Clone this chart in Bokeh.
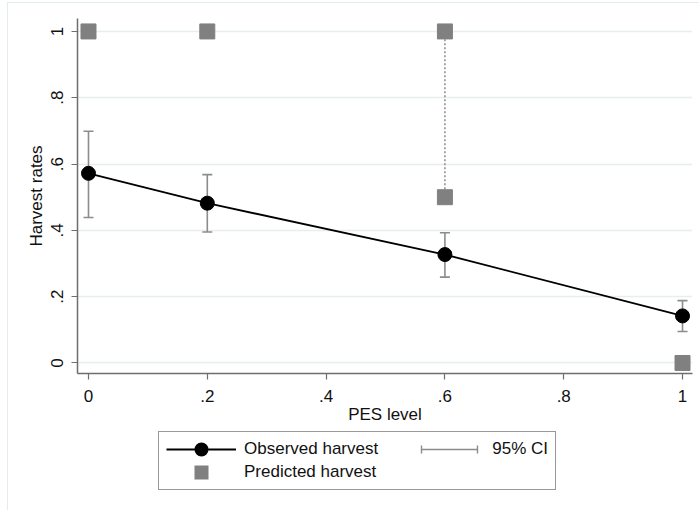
from bokeh.plotting import figure
from bokeh.layouts import column
from bokeh.models import (Range1d, FixedTicker, Legend, LegendItem, ColumnDataSource,
                          Whisker, TeeHead)
from bokeh.embed import file_html
from bokeh.resources import INLINE

# ---- data ----
pes_level = [0.0, 0.2, 0.6, 1.0]
observed = [0.572, 0.482, 0.327, 0.142]
ci_low = [0.439, 0.395, 0.259, 0.095]
ci_high = [0.699, 0.568, 0.393, 0.188]

pred_x = [0.0, 0.2, 0.6, 0.6, 1.0]
pred_y = [1.0, 1.0, 1.0, 0.5, 0.0]

ticks = [0.0, 0.2, 0.4, 0.6, 0.8, 1.0]
tick_labels = ["0", ".2", ".4", ".6", ".8", "1"]

# range of predictions at PES levels with more than one prediction
range_x, range_lo, range_hi = [], [], []
for xv in sorted(set(pred_x)):
    ys = [yv for xx, yv in zip(pred_x, pred_y) if xx == xv]
    if len(ys) > 1:
        range_x.append(xv)
        range_lo.append(min(ys))
        range_hi.append(max(ys))

FONT = "Liberation Sans"
FS = "17px"
GREY = "#8c8c8c"
SQ = "#808080"
FRAME = "#e3ecee"

# ---------------- main plot ----------------
p = figure(width=699, height=430, output_backend="svg", toolbar_location=None,
           x_range=Range1d(-0.0185, 1.0168), y_range=Range1d(-0.0317, 1.039),
           min_border_left=77, min_border_right=7, min_border_top=18,
           min_border_bottom=57)
p.outline_line_color = None
p.background_fill_color = "white"
p.border_fill_color = None
p.styles = {"background": (f"linear-gradient({FRAME},{FRAME}) 7px 2px / 1px 700px no-repeat, "
                           f"linear-gradient({FRAME},{FRAME}) 7px 2px / 800px 1px no-repeat, "
                           "white")}

for ax in (p.xaxis[0], p.yaxis[0]):
    ax.ticker = FixedTicker(ticks=ticks)
    ax.major_label_overrides = {t: l for t, l in zip(ticks, tick_labels)}
    ax.axis_line_color = "#6e6e6e"
    ax.axis_line_width = 1.5
    ax.major_tick_line_color = "#6e6e6e"
    ax.major_tick_line_width = 1.2
    ax.major_tick_in = 0
    ax.major_tick_out = 6
    ax.minor_tick_line_color = None
    ax.major_label_text_font = FONT
    ax.major_label_text_font_size = FS
    ax.major_label_text_color = "#111111"
    ax.axis_label_text_font = FONT
    ax.axis_label_text_font_size = FS
    ax.axis_label_text_font_style = "normal"
    ax.axis_label_text_color = "#111111"

p.xaxis.axis_label = "PES level"
p.yaxis.axis_label = "Harvest rates"
p.yaxis.major_label_orientation = "vertical"
p.xaxis.major_label_standoff = 10
p.xaxis.axis_label_standoff = 0
p.yaxis.major_label_standoff = 8
p.yaxis.axis_label_standoff = 3

p.xgrid.grid_line_color = None
p.ygrid.ticker = FixedTicker(ticks=ticks)
p.ygrid.grid_line_color = "#e6eef0"
p.ygrid.grid_line_width = 1.5

src = ColumnDataSource(dict(x=pes_level, y=observed, lo=ci_low, hi=ci_high))
psrc = ColumnDataSource(dict(x=pred_x, y=pred_y))

# dotted range of predictions
p.segment(x0=range_x, y0=range_lo, x1=range_x, y1=range_hi,
          line_color="#8a8a8a", line_width=1.5, line_dash="2 2")

# CI bars with caps
p.segment(x0="x", y0="lo", x1="x", y1="hi", source=src,
          line_color=GREY, line_width=1.6)
wh = Whisker(base="x", lower="lo", upper="hi", source=src, dimension="height",
             line_alpha=0)
wh.upper_head = TeeHead(size=10, line_color=GREY, line_width=1.6)
wh.lower_head = TeeHead(size=10, line_color=GREY, line_width=1.6)
p.add_layout(wh)

# observed line + markers
p.line(x="x", y="y", source=src, line_color="black", line_width=1.8)
p.scatter(x="x", y="y", source=src, size=14, marker="circle",
          fill_color="black", line_color="black")

# predicted squares
p.scatter(x="x", y="y", source=psrc, size=15, marker="square",
          fill_color=SQ, line_color=SQ)

# ---------------- legend strip ----------------
lf = figure(width=699, height=80, output_backend="svg", toolbar_location=None,
            x_range=Range1d(0, 1), y_range=Range1d(0, 1),
            x_axis_type=None, y_axis_type=None, min_border=0)
lf.outline_line_color = None
lf.background_fill_color = None
lf.border_fill_color = None
lf.styles = {"background": (f"linear-gradient({FRAME},{FRAME}) 7px 0px / 1px 200px no-repeat, "
                            "white")}

# legend keys: same series, hidden renderers (only their legend glyphs are shown)
k_line = lf.line(x="x", y="y", source=src, line_color="black", line_width=1.8)
k_dot = lf.scatter(x="x", y="y", source=src, marker="circle",
                   fill_color="black", line_color="black", line_width=6)
k_sq = lf.scatter(x="x", y="y", source=psrc, marker="square",
                  fill_color=SQ, line_color=SQ, line_width=6, line_join="miter")
k_ci = lf.segment(x0="x", y0="lo", x1="x", y1="hi", source=src, line_color=GREY,
                  line_width=1.4, line_dash="0 7 56 7")
k_cap = lf.quad(left="x", right="x", top="hi", bottom="lo", source=src,
                fill_color=None, line_color=GREY, line_width=1.4,
                line_dash="0 60 8 64 8 4")
for r in (k_line, k_dot, k_sq, k_ci, k_cap):
    r.visible = False

legend = Legend(items=[
    LegendItem(label="Observed harvest       ", renderers=[k_line, k_dot]),
    LegendItem(label="Predicted harvest", renderers=[k_sq]),
    LegendItem(label="95% CI", renderers=[k_ci, k_cap]),
], location=(81, 20), ncols=2)
legend.glyph_width = 70
legend.glyph_height = 20
legend.label_height = 20
legend.label_standoff = 8
legend.padding = 7
legend.spacing = 3
legend.margin = 0
legend.label_text_font = FONT
legend.label_text_font_size = FS
legend.label_text_color = "#111111"
legend.border_line_color = "#333333"
legend.border_line_width = 1.2
legend.background_fill_color = "white"
legend.background_fill_alpha = 1
lf.add_layout(legend, "center")

layout = column(p, lf, spacing=0)
open("out.html", "w").write(file_html(layout, INLINE))
